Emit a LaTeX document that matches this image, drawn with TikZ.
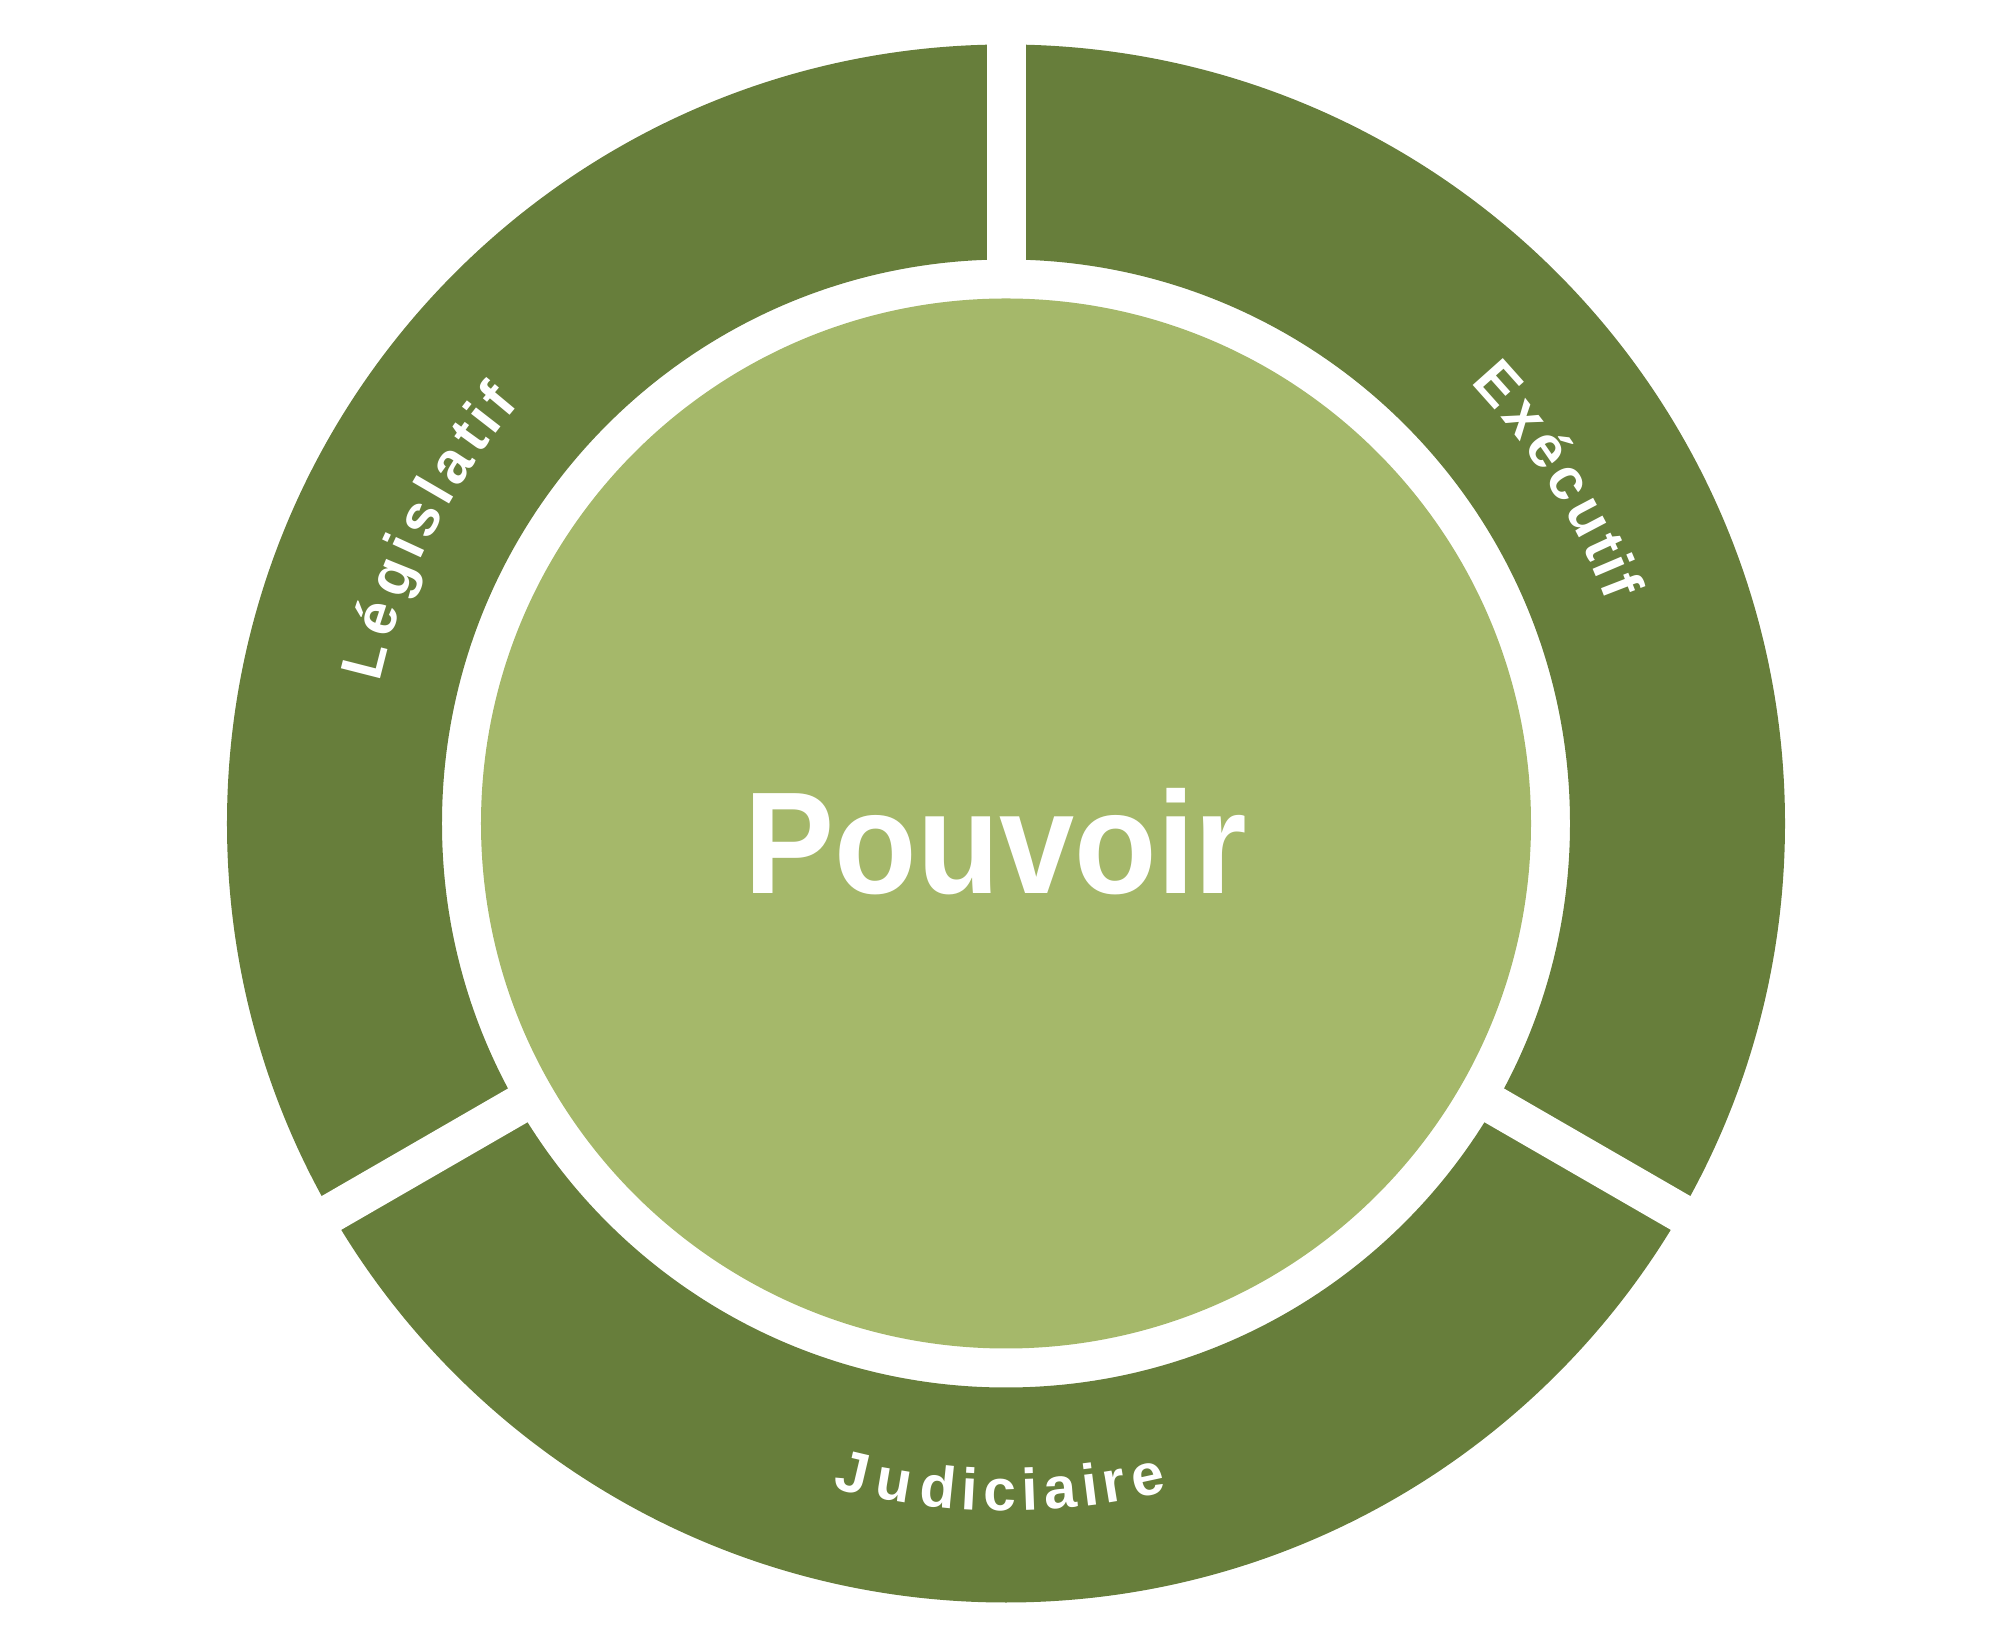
\documentclass[tikz,border=0pt]{standalone}
\usepackage{fontspec}
\setmainfont{Liberation Sans}
\newfontfamily\bigfont{Liberation Sans}[FakeStretch=0.93]
\usetikzlibrary{decorations.text}
\definecolor{ringgreen}{RGB}{103, 126, 59}
\definecolor{coregreen}{RGB}{165, 184, 106}
\newcommand{\labelfont}{\fontsize{16.7}{20}\selectfont\bfseries}
\tikzset{
    ring/.style={fill=ringgreen, even odd rule},
    core/.style={fill=coregreen},
    gap/.style={draw=white, line width=3.9mm},
    arclabel/.style={decorate, decoration={text effects along path,
        text={#1}, text effects/.cd, fit text to path,
        characters={text=white, font=\labelfont, anchor=base,
            inner sep=0pt, transform shape}}},
}

\begin{document}
\begin{tikzpicture}
    \useasboundingbox (-10.06, -8.085) rectangle (9.98, 8.235);
    \fill[ring] (0, 0) circle[radius=7.79] (0, 0) circle[radius=5.64];
    \foreach \a in {90, 210, 330}
        \draw[gap] (\a:5.45) -- (\a:8);
    \fill[core] (0, 0) circle[radius=5.25];
    \node[text=white, font=\bigfont\fontsize{41.3}{48}\selectfont\bfseries,
        anchor=base] (pouvoir) at (-0.1, -0.7) {Pouvoir};
    \path[arclabel=Législatif] (167.3:6.42)
        arc[start angle=167.3, end angle=139.3, radius=6.42];
    \path[arclabel=Exécutif] (43.5:6.4)
        arc[start angle=43.5, end angle=20.3, radius=6.4];
    \path[arclabel=Judiciaire] (255.4:6.87)
        arc[start angle=255.4, end angle=283.6, radius=6.87];
\end{tikzpicture}
\end{document}
